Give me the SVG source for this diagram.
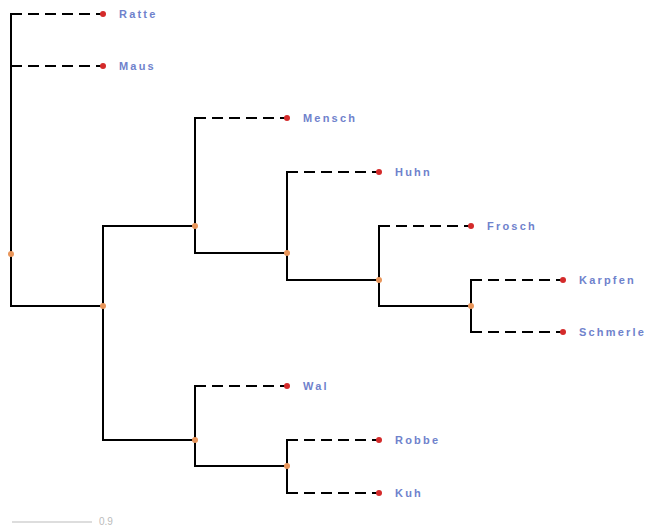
<svg xmlns="http://www.w3.org/2000/svg" width="648" height="526" viewBox="0 0 648 526">
<style>
.s{stroke:#000;stroke-width:2;fill:none;stroke-linecap:square}
.d{stroke:#000;stroke-width:2;fill:none;stroke-dasharray:11,6}
.leaf{fill:#d42a2a}
.in{fill:#e8955a}
.lb{font-family:"Liberation Sans",Arial,sans-serif;font-size:11px;font-weight:bold;fill:#6f82cc;letter-spacing:2.2px}
</style>
<rect width="648" height="526" fill="#fff"/>
<g id="connectors">
<path class="s" d="M11,14V306H103M103,226V440M103,226H195M103,440H195M195,118V253H287M287,172V280H379M379,226V306H471M471,280V332M195,386V466H287M287,440V493"/>
<path class="d" d="M11,14H103M11,66H103M195,118H287M287,172H379M379,226H471M471,280H563M471,332H563M195,386H287M287,440H379M287,493H379"/>
</g>
<g id="n_root"><circle class="in" cx="11" cy="254" r="3"/></g>
<g id="n1"><circle class="in" cx="103" cy="306" r="3"/></g>
<g id="n2"><circle class="in" cx="195" cy="226" r="3"/></g>
<g id="n3"><circle class="in" cx="287" cy="253" r="3"/></g>
<g id="n4"><circle class="in" cx="379" cy="280" r="3"/></g>
<g id="n5"><circle class="in" cx="471" cy="306" r="3"/></g>
<g id="n6"><circle class="in" cx="195" cy="440" r="3"/></g>
<g id="n7"><circle class="in" cx="287" cy="466" r="3"/></g>
<g id="Ratte"><circle class="leaf" cx="103" cy="14" r="3"/><text class="lb" x="119" y="18">Ratte</text></g>
<g id="Maus"><circle class="leaf" cx="103" cy="66" r="3"/><text class="lb" x="119" y="70">Maus</text></g>
<g id="Mensch"><circle class="leaf" cx="287" cy="118" r="3"/><text class="lb" x="303" y="122">Mensch</text></g>
<g id="Huhn"><circle class="leaf" cx="379" cy="172" r="3"/><text class="lb" x="395" y="176">Huhn</text></g>
<g id="Frosch"><circle class="leaf" cx="471" cy="226" r="3"/><text class="lb" x="487" y="230">Frosch</text></g>
<g id="Karpfen"><circle class="leaf" cx="563" cy="280" r="3"/><text class="lb" x="579" y="284">Karpfen</text></g>
<g id="Schmerle"><circle class="leaf" cx="563" cy="332" r="3"/><text class="lb" x="579" y="336">Schmerle</text></g>
<g id="Wal"><circle class="leaf" cx="287" cy="386" r="3"/><text class="lb" x="303" y="390">Wal</text></g>
<g id="Robbe"><circle class="leaf" cx="379" cy="440" r="3"/><text class="lb" x="395" y="444">Robbe</text></g>
<g id="Kuh"><circle class="leaf" cx="379" cy="493" r="3"/><text class="lb" x="395" y="497">Kuh</text></g>
<g id="scale">
<line x1="12" y1="522" x2="92" y2="522" stroke="#bbb" stroke-width="1"/>
<text x="99" y="525" font-family="Liberation Sans,Arial,sans-serif" font-size="10" fill="#bbb">0.9</text>
</g>
</svg>
